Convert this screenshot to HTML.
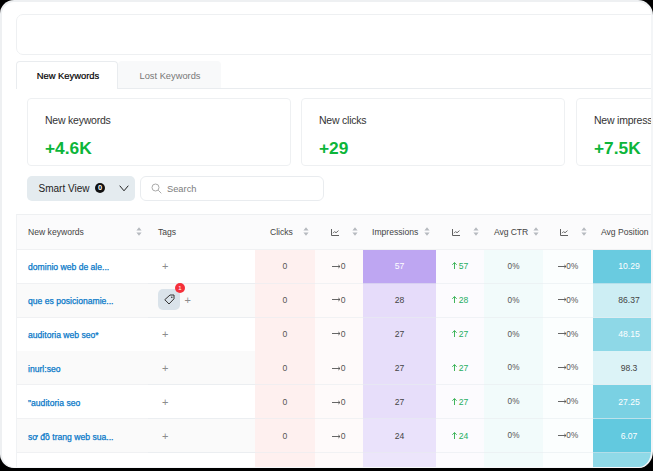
<!DOCTYPE html>
<html>
<head>
<meta charset="utf-8">
<style>
*{box-sizing:border-box;margin:0;padding:0}
html,body{width:653px;height:471px;background:#000;overflow:hidden}
body{font-family:"Liberation Sans",sans-serif;color:#333;position:relative}
#frame{position:absolute;left:0;top:0;width:653px;height:468px;background:#fff;border:2px solid #eef0f2;border-bottom:1px solid #f7f8fa;border-right-color:#f3f5f7;border-radius:14px 15px 14px 14px / 14px 15px 17px 14px;overflow:hidden}
#in{position:absolute;left:-2px;top:-2px;width:700px;height:471px}
.abs{position:absolute}
#topbox{left:16px;top:14px;width:700px;height:41px;border:1px solid #eef0f2;border-radius:7px;background:#fff}
#tabline{left:16px;top:88px;width:700px;height:1px;background:#e9ecef}
.tab{top:61px;height:28px;font-size:9.4px;line-height:27px;text-align:center}
#tab1{left:16px;width:102px;background:#fff;border:1px solid #e9ecef;border-bottom:none;border-radius:4px 4px 0 0;color:#000;-webkit-text-stroke:0.2px #000;padding-left:2px}
#tab2{left:118px;width:103px;font-size:9.3px;padding-left:1px;line-height:28.6px;background:#f8f9fa;border-top:1px solid #f8f9fa;border-bottom:1px solid #e9ecef;border-radius:4px 4px 0 0;color:#777}
.card{top:98px;width:264px;height:68px;border:1px solid #eef0f2;border-radius:4px;background:#fff}
.card .t{position:absolute;left:17px;top:15px;font-size:10.5px;letter-spacing:-0.22px;color:#333;white-space:nowrap}
.card .v{position:absolute;left:17px;top:40px;font-size:16.5px;font-weight:bold;color:#0cb53a;white-space:nowrap;transform:scaleX(1.05);transform-origin:0 0}
#smart{left:27px;top:176px;width:108px;height:25px;background:#e4ebef;border-radius:5px;font-size:10px;line-height:26px;color:#222}
#search{left:140px;top:176px;width:184px;height:25px;border:1px solid #e9ecef;border-radius:6px;font-size:9.3px;line-height:24.6px;color:#7c7c7c}
.zb{position:absolute;left:68px;top:7px;width:10px;height:10px;border-radius:5px;background:#111;color:#fff;font-size:7.5px;font-weight:bold;line-height:10.5px;text-align:center}
#table{left:16px;top:214px;width:640px;height:260px;border-top:1px solid #eef0f2;border-left:1px solid #f0f2f4}
.row{position:absolute;left:0;width:640px;height:34px;border-bottom:1px solid #f0f1f3}
.c{position:absolute;top:0;height:34px;font-size:8.6px;line-height:33.4px;text-align:center;color:#555;white-space:nowrap;border-bottom:1px solid rgba(232,236,240,.6)}
.lo .c{line-height:34.2px}
.hd .c{line-height:34.5px;color:#444;height:35px;border-bottom:none}
.kw{color:#0878c8;text-align:left;padding-left:11px;-webkit-text-stroke:0.25px #0878c8;border-bottom:none !important}
.up{color:#1fae62}
.kw span{display:inline-block;transform:translateY(0.6px)}
.so{position:relative;top:0.8px}
.ch{position:relative;top:0.6px}
.plus{position:absolute;left:14px;top:0;transform:translateY(-0.3px);font-size:11px;color:#8c8c8c}
.ar{position:relative;top:-0.5px;margin-right:0px}.ua{position:relative;top:0px;margin-right:2px}
.tagb{position:absolute;left:10px;top:5.5px;width:22px;height:21px;background:#dae3ea;border-radius:5px;line-height:0}
.tagb svg{position:absolute;left:5.5px;top:5px}
.badge{position:absolute;left:17px;top:-6px;width:10px;height:10px;border-radius:5px;background:#f5303a;color:#fff;font-size:6px;line-height:10px;text-align:center}
</style>
</head>
<body>
<div id="frame"><div id="in">
<div class="abs" id="topbox"></div>
<div class="abs" id="tabline"></div>
<div class="abs tab" id="tab1">New Keywords</div>
<div class="abs tab" id="tab2">Lost Keywords</div>
<div class="abs card" style="left:27px"><div class="t">New keywords</div><div class="v">+4.6K</div></div>
<div class="abs card" style="left:301px"><div class="t">New clicks</div><div class="v">+29</div></div>
<div class="abs card" style="left:576px"><div class="t">New impress</div><div class="v">+7.5K</div></div>
<div class="abs" id="smart"><span style="position:absolute;left:11.5px">Smart View</span><span class="zb">0</span><svg style="position:absolute;left:92px;top:9px" width="10" height="7" viewBox="0 0 10 7"><path d="M0.7 0.7L5 5.8L9.3 0.7" fill="none" stroke="#222" stroke-width="1"/></svg></div>
<div class="abs" id="search"><svg style="position:absolute;left:10px;top:6px" width="11" height="11" viewBox="0 0 11 11"><circle cx="4.5" cy="4.5" r="3.5" fill="none" stroke="#aaa" stroke-width="1"/><path d="M7.2 7.2L10.3 10.3" stroke="#aaa" stroke-width="1"/></svg><span style="position:absolute;left:26px">Search</span></div>
<div class="abs" id="table"><div class="row hd" style="top:0;height:35px;background:#fbfbfc"><div class="c " style="left:0px;width:131px;text-align:left"><span style="position:absolute;left:11px">New keywords</span><span style="position:absolute;left:119px"><svg class="so" width="6" height="9" viewBox="0 0 6 9"><path d="M3 0.3L5.6 3.5H0.4Z M3 8.7L0.4 5.5H5.6Z" fill="#b6babf"/></svg></span></div><div class="c " style="left:131px;width:107px;text-align:left"><span style="position:absolute;left:10px">Tags</span></div><div class="c " style="left:238px;width:60px;"><span style="position:absolute;left:15px">Clicks</span><span style="position:absolute;left:48px"><svg class="so" width="6" height="9" viewBox="0 0 6 9"><path d="M3 0.3L5.6 3.5H0.4Z M3 8.7L0.4 5.5H5.6Z" fill="#b6babf"/></svg></span></div><div class="c " style="left:298px;width:48px;"><span style="position:absolute;left:16px"><svg class="ch" width="8" height="7" viewBox="0 0 8 7"><path d="M0.5 0V6.5H8" stroke="#606060" fill="none" stroke-width="1"/><path d="M2 4.2L3.6 2.6L5 3.8L7.5 1.6" stroke="#606060" fill="none" stroke-width="0.9"/></svg></span><span style="position:absolute;left:37px"><svg class="so" width="6" height="9" viewBox="0 0 6 9"><path d="M3 0.3L5.6 3.5H0.4Z M3 8.7L0.4 5.5H5.6Z" fill="#b6babf"/></svg></span></div><div class="c " style="left:346px;width:73px;"><span style="position:absolute;left:9px">Impressions</span><span style="position:absolute;left:61px"><svg class="so" width="6" height="9" viewBox="0 0 6 9"><path d="M3 0.3L5.6 3.5H0.4Z M3 8.7L0.4 5.5H5.6Z" fill="#b6babf"/></svg></span></div><div class="c " style="left:419px;width:48px;"><span style="position:absolute;left:16px"><svg class="ch" width="8" height="7" viewBox="0 0 8 7"><path d="M0.5 0V6.5H8" stroke="#606060" fill="none" stroke-width="1"/><path d="M2 4.2L3.6 2.6L5 3.8L7.5 1.6" stroke="#606060" fill="none" stroke-width="0.9"/></svg></span><span style="position:absolute;left:37px"><svg class="so" width="6" height="9" viewBox="0 0 6 9"><path d="M3 0.3L5.6 3.5H0.4Z M3 8.7L0.4 5.5H5.6Z" fill="#b6babf"/></svg></span></div><div class="c " style="left:467px;width:59px;"><span style="position:absolute;left:10px;letter-spacing:-0.1px">Avg CTR</span><span style="position:absolute;left:49px"><svg class="so" width="6" height="9" viewBox="0 0 6 9"><path d="M3 0.3L5.6 3.5H0.4Z M3 8.7L0.4 5.5H5.6Z" fill="#b6babf"/></svg></span></div><div class="c " style="left:526px;width:50px;"><span style="position:absolute;left:17px"><svg class="ch" width="8" height="7" viewBox="0 0 8 7"><path d="M0.5 0V6.5H8" stroke="#606060" fill="none" stroke-width="1"/><path d="M2 4.2L3.6 2.6L5 3.8L7.5 1.6" stroke="#606060" fill="none" stroke-width="0.9"/></svg></span><span style="position:absolute;left:38px"><svg class="so" width="6" height="9" viewBox="0 0 6 9"><path d="M3 0.3L5.6 3.5H0.4Z M3 8.7L0.4 5.5H5.6Z" fill="#b6babf"/></svg></span></div><div class="c " style="left:576px;width:72px;"><span style="position:absolute;left:8px">Avg Position</span></div></div><div class="row" style="top:35.0px;background:#fff"><div class="c kw" style="left:0px;width:131px;"><span>dominio web de ale...</span></div><div class="c " style="left:131px;width:107px;"><span class="plus" style="left:14px">+</span></div><div class="c " style="left:238px;width:60px;background:#fef0ef">0</div><div class="c " style="left:298px;width:48px;background:#fefafa"><svg class="ar" width="8.5" height="5" viewBox="0 0 8.5 5"><path d="M0 2.5H8 M6.3 1L8 2.5L6.3 4" fill="none" stroke="#555" stroke-width="0.9"/></svg>0</div><div class="c " style="left:346px;width:73px;background:#bea6f2;color:#fff">57</div><div class="c up" style="left:419px;width:48px;background:#fcfbfe"><svg class="ua" width="5" height="7" viewBox="0 0 5 7"><path d="M2.5 7V0.6 M0.3 2.8L2.5 0.6L4.7 2.8" fill="none" stroke="#2aad4a" stroke-width="0.9"/></svg>57</div><div class="c " style="left:467px;width:59px;background:#f2fbfb;font-size:8.2px">0%</div><div class="c " style="left:526px;width:50px;background:#fbfefe;font-size:8.2px"><svg class="ar" width="8.5" height="5" viewBox="0 0 8.5 5"><path d="M0 2.5H8 M6.3 1L8 2.5L6.3 4" fill="none" stroke="#555" stroke-width="0.9"/></svg>0%</div><div class="c " style="left:576px;width:72px;background:#69cbe0;color:#fff">10.29</div></div><div class="row" style="top:68.8px;background:#fafafa"><div class="c kw" style="left:0px;width:131px;"><span>que es posicionamie...</span></div><div class="c " style="left:131px;width:107px;"><span class="tagb"><svg width="11" height="11" viewBox="0 0 11 11"><path d="M6 1H10V4.8L5 10L0.8 5.7Z" fill="none" stroke="#333" stroke-width="1" stroke-linejoin="round"/><circle cx="7.8" cy="3.2" r="0.8" fill="#333"/></svg><span class="badge">1</span></span><span class="plus" style="left:36.5px">+</span></div><div class="c " style="left:238px;width:60px;background:#fef0ef">0</div><div class="c " style="left:298px;width:48px;background:#fefafa"><svg class="ar" width="8.5" height="5" viewBox="0 0 8.5 5"><path d="M0 2.5H8 M6.3 1L8 2.5L6.3 4" fill="none" stroke="#555" stroke-width="0.9"/></svg>0</div><div class="c " style="left:346px;width:73px;background:#e6dcfa;color:#444">28</div><div class="c up" style="left:419px;width:48px;background:#fcfbfe"><svg class="ua" width="5" height="7" viewBox="0 0 5 7"><path d="M2.5 7V0.6 M0.3 2.8L2.5 0.6L4.7 2.8" fill="none" stroke="#2aad4a" stroke-width="0.9"/></svg>28</div><div class="c " style="left:467px;width:59px;background:#f2fbfb;font-size:8.2px">0%</div><div class="c " style="left:526px;width:50px;background:#fbfefe;font-size:8.2px"><svg class="ar" width="8.5" height="5" viewBox="0 0 8.5 5"><path d="M0 2.5H8 M6.3 1L8 2.5L6.3 4" fill="none" stroke="#555" stroke-width="0.9"/></svg>0%</div><div class="c " style="left:576px;width:72px;background:#cdeef4;color:#444">86.37</div></div><div class="row" style="top:102.6px;background:#fff"><div class="c kw" style="left:0px;width:131px;"><span>auditoria web seo*</span></div><div class="c " style="left:131px;width:107px;"><span class="plus" style="left:14px">+</span></div><div class="c " style="left:238px;width:60px;background:#fef0ef">0</div><div class="c " style="left:298px;width:48px;background:#fefafa"><svg class="ar" width="8.5" height="5" viewBox="0 0 8.5 5"><path d="M0 2.5H8 M6.3 1L8 2.5L6.3 4" fill="none" stroke="#555" stroke-width="0.9"/></svg>0</div><div class="c " style="left:346px;width:73px;background:#e7defa;color:#444">27</div><div class="c up" style="left:419px;width:48px;background:#fcfbfe"><svg class="ua" width="5" height="7" viewBox="0 0 5 7"><path d="M2.5 7V0.6 M0.3 2.8L2.5 0.6L4.7 2.8" fill="none" stroke="#2aad4a" stroke-width="0.9"/></svg>27</div><div class="c " style="left:467px;width:59px;background:#f2fbfb;font-size:8.2px">0%</div><div class="c " style="left:526px;width:50px;background:#fbfefe;font-size:8.2px"><svg class="ar" width="8.5" height="5" viewBox="0 0 8.5 5"><path d="M0 2.5H8 M6.3 1L8 2.5L6.3 4" fill="none" stroke="#555" stroke-width="0.9"/></svg>0%</div><div class="c " style="left:576px;width:72px;background:#8ed8e7;color:#fff">48.15</div></div><div class="row lo" style="top:136.4px;background:#fafafa"><div class="c kw" style="left:0px;width:131px;"><span>inurl:seo</span></div><div class="c " style="left:131px;width:107px;"><span class="plus" style="left:14px">+</span></div><div class="c " style="left:238px;width:60px;background:#fef0ef">0</div><div class="c " style="left:298px;width:48px;background:#fefafa"><svg class="ar" width="8.5" height="5" viewBox="0 0 8.5 5"><path d="M0 2.5H8 M6.3 1L8 2.5L6.3 4" fill="none" stroke="#555" stroke-width="0.9"/></svg>0</div><div class="c " style="left:346px;width:73px;background:#e7defa;color:#444">27</div><div class="c up" style="left:419px;width:48px;background:#fcfbfe"><svg class="ua" width="5" height="7" viewBox="0 0 5 7"><path d="M2.5 7V0.6 M0.3 2.8L2.5 0.6L4.7 2.8" fill="none" stroke="#2aad4a" stroke-width="0.9"/></svg>27</div><div class="c " style="left:467px;width:59px;background:#f2fbfb;font-size:8.2px">0%</div><div class="c " style="left:526px;width:50px;background:#fbfefe;font-size:8.2px"><svg class="ar" width="8.5" height="5" viewBox="0 0 8.5 5"><path d="M0 2.5H8 M6.3 1L8 2.5L6.3 4" fill="none" stroke="#555" stroke-width="0.9"/></svg>0%</div><div class="c " style="left:576px;width:72px;background:#dcf3f7;color:#444">98.3</div></div><div class="row lo" style="top:170.2px;background:#fff"><div class="c kw" style="left:0px;width:131px;"><span>"auditoria seo</span></div><div class="c " style="left:131px;width:107px;"><span class="plus" style="left:14px">+</span></div><div class="c " style="left:238px;width:60px;background:#fef0ef">0</div><div class="c " style="left:298px;width:48px;background:#fefafa"><svg class="ar" width="8.5" height="5" viewBox="0 0 8.5 5"><path d="M0 2.5H8 M6.3 1L8 2.5L6.3 4" fill="none" stroke="#555" stroke-width="0.9"/></svg>0</div><div class="c " style="left:346px;width:73px;background:#e7defa;color:#444">27</div><div class="c up" style="left:419px;width:48px;background:#fcfbfe"><svg class="ua" width="5" height="7" viewBox="0 0 5 7"><path d="M2.5 7V0.6 M0.3 2.8L2.5 0.6L4.7 2.8" fill="none" stroke="#2aad4a" stroke-width="0.9"/></svg>27</div><div class="c " style="left:467px;width:59px;background:#f2fbfb;font-size:8.2px">0%</div><div class="c " style="left:526px;width:50px;background:#fbfefe;font-size:8.2px"><svg class="ar" width="8.5" height="5" viewBox="0 0 8.5 5"><path d="M0 2.5H8 M6.3 1L8 2.5L6.3 4" fill="none" stroke="#555" stroke-width="0.9"/></svg>0%</div><div class="c " style="left:576px;width:72px;background:#7ad1e3;color:#fff">27.25</div></div><div class="row lo" style="top:204.0px;background:#fafafa"><div class="c kw" style="left:0px;width:131px;"><span>sơ đồ trang web sua...</span></div><div class="c " style="left:131px;width:107px;"><span class="plus" style="left:14px">+</span></div><div class="c " style="left:238px;width:60px;background:#fef0ef">0</div><div class="c " style="left:298px;width:48px;background:#fefafa"><svg class="ar" width="8.5" height="5" viewBox="0 0 8.5 5"><path d="M0 2.5H8 M6.3 1L8 2.5L6.3 4" fill="none" stroke="#555" stroke-width="0.9"/></svg>0</div><div class="c " style="left:346px;width:73px;background:#eae2fb;color:#444">24</div><div class="c up" style="left:419px;width:48px;background:#fcfbfe"><svg class="ua" width="5" height="7" viewBox="0 0 5 7"><path d="M2.5 7V0.6 M0.3 2.8L2.5 0.6L4.7 2.8" fill="none" stroke="#2aad4a" stroke-width="0.9"/></svg>24</div><div class="c " style="left:467px;width:59px;background:#f2fbfb;font-size:8.2px">0%</div><div class="c " style="left:526px;width:50px;background:#fbfefe;font-size:8.2px"><svg class="ar" width="8.5" height="5" viewBox="0 0 8.5 5"><path d="M0 2.5H8 M6.3 1L8 2.5L6.3 4" fill="none" stroke="#555" stroke-width="0.9"/></svg>0%</div><div class="c " style="left:576px;width:72px;background:#62c9df;color:#fff">6.07</div></div><div class="row lo" style="top:237.8px;background:#fff"><div class="c kw" style="left:0px;width:131px;"><span></span></div><div class="c " style="left:131px;width:107px;"></div><div class="c " style="left:238px;width:60px;background:#fef0ef"></div><div class="c " style="left:298px;width:48px;background:#fefafa"></div><div class="c " style="left:346px;width:73px;background:#ece5fb;color:#444"></div><div class="c up" style="left:419px;width:48px;background:#fcfbfe"></div><div class="c " style="left:467px;width:59px;background:#f2fbfb;font-size:8.2px"></div><div class="c " style="left:526px;width:50px;background:#fbfefe;font-size:8.2px"></div><div class="c " style="left:576px;width:72px;background:#8fd9e7;color:#fff"></div></div></div>
</div></div>
</body>
</html>
